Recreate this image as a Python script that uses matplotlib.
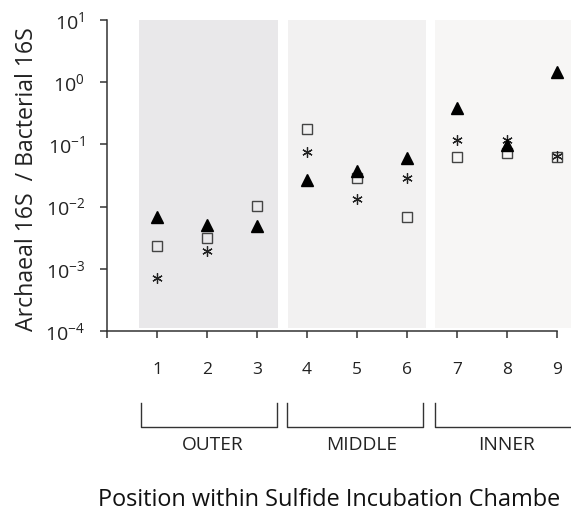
import numpy as np
import matplotlib
matplotlib.use("Agg")
import matplotlib.pyplot as plt
import matplotlib.transforms as mtransforms

plt.rcParams['font.family'] = ['Open Sans', 'DejaVu Sans']
plt.rcParams['mathtext.default'] = 'regular'

# data
positions = [1, 2, 3, 4, 5, 6, 7, 8, 9]
triangles = [0.0069, 0.0050, 0.0049, 0.027, 0.037, 0.061, 0.38, 0.098, 1.44]
squares = [0.0023, 0.0031, 0.0103, 0.18, 0.0285, 0.0069, 0.062, 0.072, 0.062]
stars = [0.0007, 0.0019, None, 0.075, 0.0131, 0.029, 0.118, 0.118, 0.064]

groups = ['OUTER', 'MIDDLE', 'INNER']
group_spans = [(0.64, 3.42), (3.62, 6.38), (6.56, 9.4)]
group_colors = ['#e9e8ea', '#f2f1f1', '#f7f6f5']
bracket_spans = [(0.67, 3.39), (3.6, 6.32), (6.56, 9.6)]
label_x = [2.12, 5.1, 7.98]

fig = plt.figure(figsize=(5.71, 5.12), dpi=100)
ax = fig.add_axes([0.1874, 0.3535, 0.8126, 0.6074])

for (a, b), c in zip(group_spans, group_colors):
    ax.fill_between([a, b], 1.1e-4, 1e1, color=c, lw=0, zorder=0)

sx = [p for p, v in zip(positions, stars) if v is not None]
sy = [v for v in stars if v is not None]
ax.plot(positions, squares, ls='none', marker='s', ms=6.5, mfc='none',
        mec='#444444', mew=1.0, zorder=3)
ax.plot(sx, sy, ls='none', marker=(6, 2, 0), ms=7.5, mec='#222222',
        mew=0.9, zorder=3)
ax.plot(positions, triangles, ls='none', marker='^', ms=9, color='black',
        zorder=4)

ax.set_yscale('log')
ax.set_ylim(1e-4, 1e1)
ax.set_xlim(0, 9.28)
ax.set_yticks([1e-4, 1e-3, 1e-2, 1e-1, 1e0, 1e1])
ax.set_yticklabels([r'$10^{-4}$', r'$10^{-3}$', r'$10^{-2}$',
                    r'$10^{-1}$', r'$10^{0}$', r'$10^{1}$'])
ax.yaxis.set_minor_locator(matplotlib.ticker.NullLocator())
ax.set_xticks(range(0, 10))
ax.set_xticklabels([''] + [str(p) for p in positions])

for s in ['top', 'right']:
    ax.spines[s].set_visible(False)
for s in ['left', 'bottom']:
    ax.spines[s].set_color('#333333')
    ax.spines[s].set_linewidth(1.1)
ax.spines['bottom'].set_bounds(0, 9)
ax.tick_params(axis='both', direction='out', length=5, width=1.1,
               color='#333333', labelsize=12.5, labelcolor='#222222')
ax.tick_params(axis='y', pad=11, labelsize=14)
ax.tick_params(axis='x', pad=17)
ax.set_facecolor('white')

trans = mtransforms.blended_transform_factory(ax.transData, ax.transAxes)
y0, y1 = -0.2315, -0.3087
for (a, b), name, lx in zip(bracket_spans, groups, label_x):
    ax.plot([a, a, b, b], [y0, y1, y1, y0], color='#333333', lw=1.0,
            transform=trans, clip_on=False)
    ax.text(lx, -0.367, name, transform=trans, ha='center', va='center',
            fontsize=13.8, color='#222222')

fig.text(27 / 571, 0.65, 'Archaeal 16S  / Bacterial 16S', rotation=90,
         ha='center', va='center', fontsize=16.7, color='#222222')
fig.text(98 / 571, 0.023, 'Position within Sulfide Incubation Chambe',
         ha='left', va='center', fontsize=16.9, color='#111111')

fig.savefig('out.png', dpi=100)
